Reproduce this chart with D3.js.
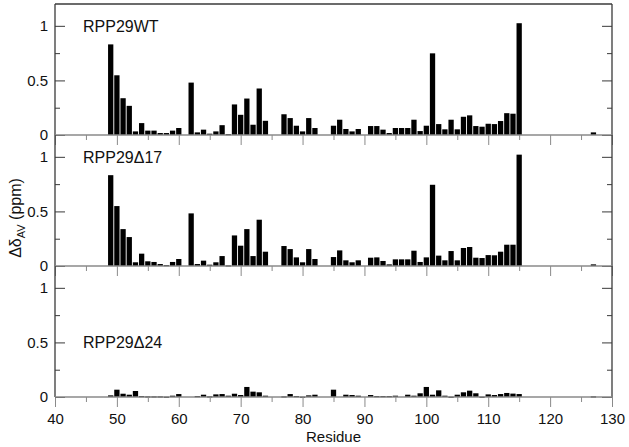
<!DOCTYPE html>
<html>
<head>
<meta charset="utf-8">
<script src="https://cdn.jsdelivr.net/npm/d3@7"></script>
<style>
  html, body { margin: 0; padding: 0; background: #fff; }
  svg text { font-family: "Liberation Sans", Arial, Helvetica, sans-serif; fill: #111; }
</style>
</head>
<body>
<svg id="chart" width="629" height="447"></svg>
<script>
// ---- Data ----
const residues = [49,50,51,52,53,54,55,56,57,58,59,60,
                  62,63,64,65,66,67,68,69,70,71,72,73,74,
                  77,78,79,80,81,82,
                  85,86,87,88,89,
                  91,92,93,94,95,96,97,98,99,100,101,102,103,104,105,106,107,108,109,110,111,112,113,114,115,
                  127];

const wtValues = [0.83,0.547,0.337,0.267,0.033,0.109,0.04,0.04,0.018,0.018,0.04,0.064,
                  0.48,0.024,0.049,0.012,0.033,0.09,0.009,0.28,0.185,0.334,0.094,0.426,0.13,
                  0.19,0.155,0.085,0.033,0.155,0.064,
                  0.085,0.14,0.055,0.033,0.055,
                  0.082,0.082,0.049,0.018,0.064,0.064,0.064,0.14,0.036,0.085,0.748,0.1,0.052,0.14,0.052,0.167,0.18,0.082,0.076,0.103,0.1,0.128,0.2,0.195,1.024,
                  0.024];

const d17Values = [0.832,0.549,0.338,0.265,0.034,0.113,0.043,0.037,0.018,0.009,0.037,0.064,
                   0.482,0.018,0.049,0.012,0.034,0.091,0.006,0.28,0.186,0.338,0.091,0.424,0.131,
                   0.183,0.155,0.079,0.034,0.155,0.064,
                   0.082,0.143,0.052,0.034,0.052,
                   0.076,0.079,0.046,0.015,0.061,0.061,0.061,0.14,0.037,0.079,0.744,0.095,0.052,0.137,0.052,0.165,0.174,0.076,0.073,0.1,0.098,0.131,0.195,0.195,1.02,
                   0.015];

const d24Values = [0.015,0.067,0.03,0.021,0.055,0.009,0.006,0.006,0.006,0.003,0.012,0.027,
                   0,0.009,0.021,0.006,0.024,0.027,0.012,0.03,0.018,0.092,0.049,0.043,0.012,
                   0.006,0.027,0.009,0.003,0.015,0.021,
                   0.067,0,0.021,0.018,0.012,
                   0.018,0.009,0.009,0.009,0.012,0,0.021,0.012,0.034,0.092,0.021,0.061,0.012,0.003,0.021,0.043,0.058,0.034,0.003,0.024,0.018,0.027,0.037,0.031,0.027,
                   0.006];

const panelLabels = ["RPP29WT", "RPP29\u039417", "RPP29\u039424"];
const xTicks = [40,50,60,70,80,90,100,110,120,130];
const xMinorTicks = [45,55,65,75,85,95,105,115,125];
const yTicks = [0, 0.5, 1];
const yTickLabels = ["0", "0.5", "1"];
const yMinorTicks = [0.25, 0.75];

// ---- Layout ----
const svg = d3.select("#chart");
const left = 55, right = 612;
const panelTop = 4, panelH = 131;
const seriesList = [wtValues, d17Values, d24Values];

const x = d3.scaleLinear().domain([40, 130]).range([left, right]);
const barW = (x(41) - x(40)) - 0.9;

const frameColor = "#3a3a3a";
const zeroColor = "#8a8a8a";

seriesList.forEach((vals, i) => {
  const top = panelTop + i * panelH;
  const bottom = top + panelH;
  const y = d3.scaleLinear().domain([0, 1.2]).range([bottom, top]);
  const g = svg.append("g");

  // bars
  g.selectAll("rect.bar")
    .data(residues.map((r, k) => ({ r, v: vals[k] })).filter(d => d.v > 0))
    .join("rect")
    .attr("class", "bar")
    .attr("x", d => x(d.r) - barW / 2)
    .attr("width", barW)
    .attr("y", d => y(d.v))
    .attr("height", d => Math.max(1.2, y(0) - y(d.v)))
    .attr("fill", "#000");

  // x axis (major)
  const xa = g.append("g")
    .attr("transform", `translate(0,${y(0)})`)
    .call(d3.axisBottom(x).tickValues(xTicks).tickSize(10).tickPadding(6)
      .tickFormat(i === 2 ? d3.format("d") : () => ""));
  xa.select(".domain").remove();
  xa.selectAll(".tick line").attr("stroke", zeroColor);
  xa.selectAll("text").style("font-size", "15px").attr("fill", "#111");

  const xm = g.append("g")
    .attr("transform", `translate(0,${y(0)})`)
    .call(d3.axisBottom(x).tickValues(xMinorTicks).tickSize(5).tickFormat(() => ""));
  xm.select(".domain").remove();
  xm.selectAll(".tick line").attr("stroke", zeroColor);

  // left axis (inward ticks)
  const ya = g.append("g")
    .attr("transform", `translate(${left},0)`)
    .call(d3.axisLeft(y).tickValues(yTicks).tickSize(-10).tickPadding(7)
      .tickFormat((d, k) => yTickLabels[k]));
  ya.select(".domain").remove();
  ya.selectAll(".tick line").attr("stroke", frameColor);
  ya.selectAll("text").style("font-size", "15px").attr("fill", "#111");

  const yam = g.append("g")
    .attr("transform", `translate(${left},0)`)
    .call(d3.axisLeft(y).tickValues(yMinorTicks).tickSize(-5).tickFormat(() => ""));
  yam.select(".domain").remove();
  yam.selectAll(".tick line").attr("stroke", frameColor);

  // right axis (inward ticks)
  const yr = g.append("g")
    .attr("transform", `translate(${right},0)`)
    .call(d3.axisRight(y).tickValues(yTicks).tickSize(-10).tickFormat(() => ""));
  yr.select(".domain").remove();
  yr.selectAll(".tick line").attr("stroke", frameColor);
  const yrm = g.append("g")
    .attr("transform", `translate(${right},0)`)
    .call(d3.axisRight(y).tickValues(yMinorTicks).tickSize(-5).tickFormat(() => ""));
  yrm.select(".domain").remove();
  yrm.selectAll(".tick line").attr("stroke", frameColor);

  // frame: left / right / top lines dark, zero line gray
  g.append("line").attr("x1", left).attr("x2", left).attr("y1", top).attr("y2", bottom)
    .attr("stroke", frameColor).attr("stroke-width", 1.3);
  g.append("line").attr("x1", right).attr("x2", right).attr("y1", top).attr("y2", bottom)
    .attr("stroke", frameColor).attr("stroke-width", 1.3);
  if (i === 0) {
    g.append("line").attr("x1", left).attr("x2", right).attr("y1", top).attr("y2", top)
      .attr("stroke", frameColor).attr("stroke-width", 1.3);
  }
  g.append("line").attr("x1", left).attr("x2", right).attr("y1", y(0)).attr("y2", y(0))
    .attr("stroke", zeroColor).attr("stroke-width", 1.3);

  // panel label
  const labelY = i === 2 ? y(0.5) + 6 : y(1) + 6;
  g.append("text")
    .attr("x", 83)
    .attr("y", labelY)
    .style("font-size", "16px")
    .text(panelLabels[i]);
});

// x axis title
svg.append("text")
  .attr("x", (left + right) / 2)
  .attr("y", 442)
  .attr("text-anchor", "middle")
  .style("font-size", "15px")
  .text("Residue");

// y axis title
const yt = svg.append("text")
  .attr("transform", "translate(21,218) rotate(-90)")
  .attr("text-anchor", "middle")
  .style("font-size", "16px");
yt.append("tspan").text("\u0394\u03b4");
yt.append("tspan").attr("dy", 4).style("font-size", "11px").text("AV");
yt.append("tspan").attr("dy", -4).text(" (ppm)");
</script>
</body>
</html>
